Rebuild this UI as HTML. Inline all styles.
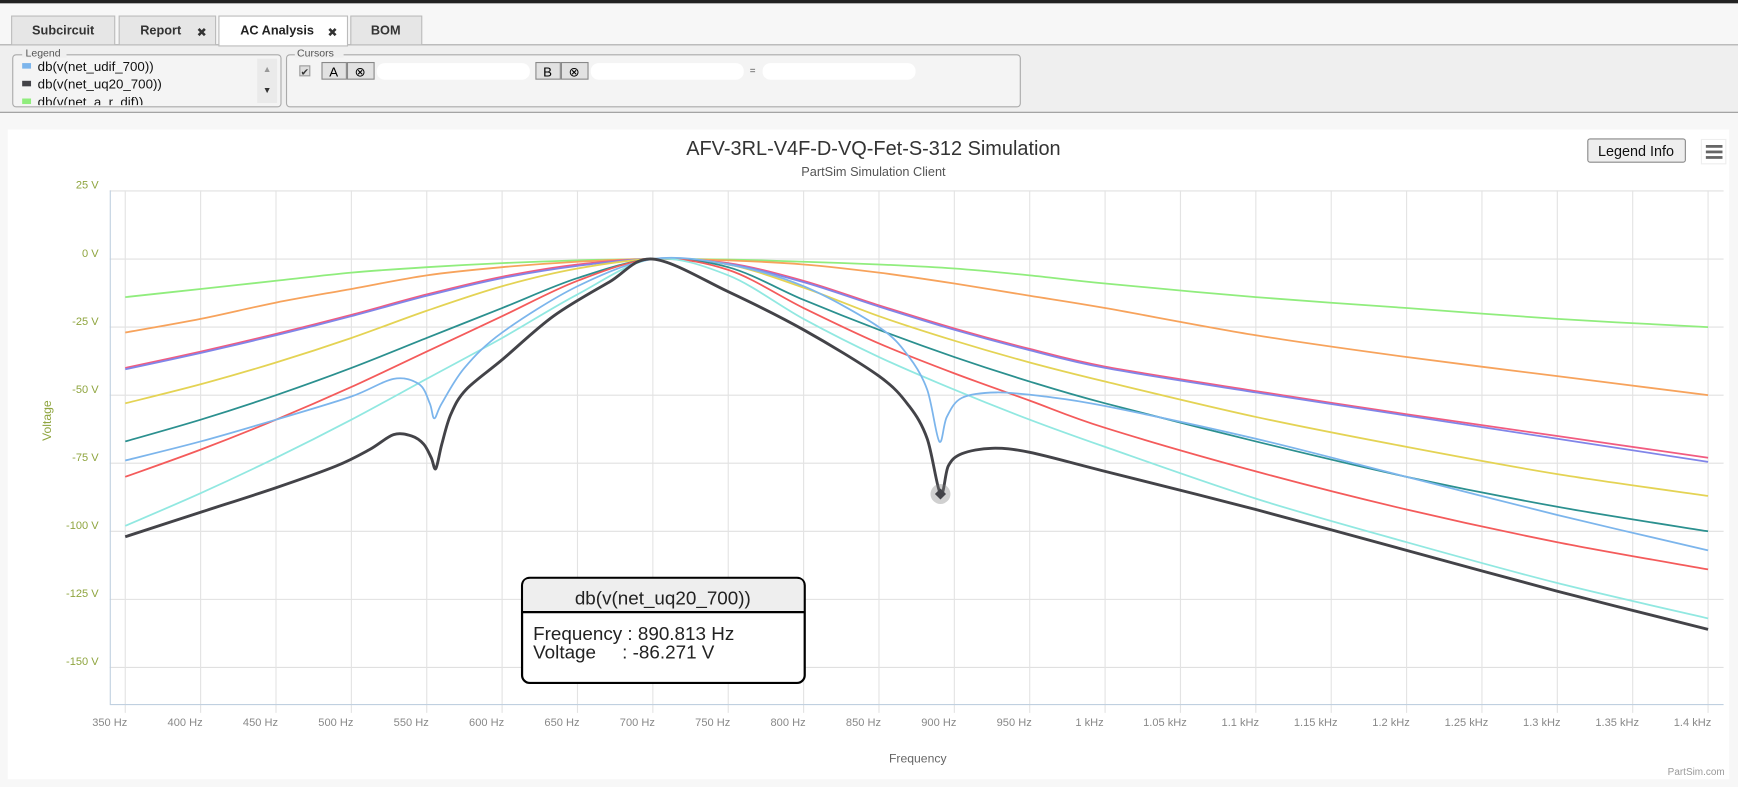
<!DOCTYPE html>
<html><head><meta charset="utf-8"><style>
html,body{margin:0;padding:0;background:#fff;width:1738px;height:787px;overflow:hidden}
svg{display:block;font-family:"Liberation Sans","DejaVu Sans",sans-serif}
</style></head><body>
<svg id="page" width="1738" height="787" viewBox="0 0 1568 711" preserveAspectRatio="none" xmlns="http://www.w3.org/2000/svg">
<rect x="0" y="0" width="1568" height="711" fill="#f7f7f7"/>
<rect x="0" y="0" width="1568" height="3" fill="#222"/>
<g>
 <rect x="0" y="40" width="1568" height="62" fill="#efefef"/>
 <line x1="0" y1="40.5" x2="1568" y2="40.5" stroke="#aaa"/>
 <line x1="0" y1="101.5" x2="1568" y2="101.5" stroke="#999"/>
 <g><rect x="10.5" y="14.5" width="93" height="26" fill="#e6e6e6" stroke="#bbb"/><text x="57" y="31" font-size="11.5" font-weight="bold" text-anchor="middle" fill="#333">Subcircuit</text></g>
 <g><rect x="107.5" y="14.5" width="87" height="26" fill="#e6e6e6" stroke="#bbb"/><text x="145" y="31" font-size="11.5" font-weight="bold" text-anchor="middle" fill="#333">Report</text><text x="182" y="33" font-size="11" font-weight="bold" text-anchor="middle" fill="#333">✖</text></g>
 <g><rect x="197.5" y="14.5" width="116" height="27" fill="#fff" stroke="#bbb"/><text x="250" y="31" font-size="11.5" font-weight="bold" text-anchor="middle" fill="#222">AC Analysis</text><text x="300" y="33" font-size="11" font-weight="bold" text-anchor="middle" fill="#333">✖</text></g>
 <g><rect x="316.5" y="14.5" width="64" height="26" fill="#e6e6e6" stroke="#bbb"/><text x="348" y="31" font-size="11.5" font-weight="bold" text-anchor="middle" fill="#333">BOM</text></g>
 <g>
  <rect x="11.5" y="49.5" width="242" height="47" rx="3" fill="#f4f4f4" stroke="#aaa"/>
  <rect x="20" y="42" width="40" height="10" fill="#efefef"/>
  <text x="23" y="51" font-size="9.5" fill="#555">Legend</text>
  <rect x="20" y="57" width="8" height="5" fill="#7cb5ec"/><text x="34" y="64" font-size="12" fill="#111">db(v(net_udif_700))</text>
  <rect x="20" y="73" width="8" height="5" fill="#434348"/><text x="34" y="80" font-size="12" fill="#111">db(v(net_uq20_700))</text>
  <svg x="14" y="84" width="220" height="11"><rect x="6" y="5" width="8" height="5" fill="#90ed7d"/><text x="20" y="12" font-size="12" fill="#111">db(v(net_a_r_dif))</text></svg>
  <rect x="232" y="53" width="18" height="40" fill="#eaeaea"/>
  <text x="241" y="65" font-size="8" text-anchor="middle" fill="#999">▲</text>
  <text x="241" y="84" font-size="8" text-anchor="middle" fill="#333">▼</text>
 </g>
 <g>
  <rect x="258.5" y="49.5" width="662" height="47" rx="3" fill="#f4f4f4" stroke="#aaa"/>
  <rect x="266" y="42" width="44" height="10" fill="#efefef"/>
  <text x="268" y="51" font-size="9.5" fill="#555">Cursors</text>
  <rect x="270.5" y="59.5" width="9" height="9" fill="#ddd" stroke="#999"/><text x="275" y="68" font-size="9" text-anchor="middle" fill="#333">✔</text>
  <rect x="290.5" y="56.5" width="22" height="15" fill="#e2e2e2" stroke="#888"/><text x="301" y="69" font-size="12" text-anchor="middle">A</text>
  <rect x="313.5" y="56.5" width="24" height="15" fill="#e2e2e2" stroke="#888"/><text x="325" y="69" font-size="12" text-anchor="middle">⊗</text>
  <rect x="340" y="57" width="138" height="15" rx="7" fill="#fff"/>
  <rect x="483.5" y="56.5" width="22" height="15" fill="#e2e2e2" stroke="#888"/><text x="494" y="69" font-size="12" text-anchor="middle">B</text>
  <rect x="506.5" y="56.5" width="24" height="15" fill="#e2e2e2" stroke="#888"/><text x="518" y="69" font-size="12" text-anchor="middle">⊗</text>
  <rect x="533" y="57" width="138" height="15" rx="7" fill="#fff"/>
  <text x="679" y="67" font-size="9" text-anchor="middle" fill="#555">=</text>
  <rect x="688" y="57" width="138" height="15" rx="7" fill="#fff"/>
 </g>
</g>
<rect x="7" y="117" width="1553" height="587" fill="#fff"/>
<text x="788" y="140" font-size="18" text-anchor="middle" fill="#333">AFV-3RL-V4F-D-VQ-Fet-S-312 Simulation</text>
<text x="788" y="159" font-size="11.5" text-anchor="middle" fill="#555">PartSim Simulation Client</text>
<g><rect x="1432.5" y="125.5" width="88" height="21" rx="2" fill="#eee" stroke="#888"/><text x="1476" y="141" font-size="13" text-anchor="middle" fill="#111">Legend Info</text></g>
<g><rect x="1535" y="126" width="22" height="22" fill="#fff" stroke="#eee"/><rect x="1539" y="131" width="15" height="2.5" fill="#666"/><rect x="1539" y="136" width="15" height="2.5" fill="#666"/><rect x="1539" y="141" width="15" height="2.5" fill="#666"/></g>
<g id="grid"></g>
<g id="series"></g>
<g id="axes"></g>
<text transform="translate(46,380) rotate(-90)" font-size="11" text-anchor="middle" fill="#8fa53f">Voltage</text>
<text x="828" y="689" font-size="11" text-anchor="middle" fill="#666">Frequency</text>
<text x="1556" y="700" font-size="9" text-anchor="end" fill="#999">PartSim.com</text>
<g id="marker"></g>
<g>
 <rect x="471" y="522" width="255" height="95" rx="7" fill="#fff" stroke="#000" stroke-width="2"/>
 <path d="M472,553 V529 Q472,523 478,523 H719 Q725,523 725,529 V553 Z" fill="#eee"/>
 <line x1="471" y1="553" x2="726" y2="553" stroke="#000" stroke-width="2"/>
 <text x="598" y="546" font-size="17" text-anchor="middle" fill="#222">db(v(net_uq20_700))</text>
 <text x="481" y="578" font-size="17" fill="#222">Frequency : 890.813 Hz</text>
 <text x="481" y="595" font-size="17" fill="#222" xml:space="preserve">Voltage     : -86.271 V</text>
</g>
</svg>
<script>
const yTicks=[25,0,-25,-50,-75,-100,-125,-150];
const xTicks=[350,400,450,500,550,600,650,700,750,800,850,900,950,1000,1050,1100,1150,1200,1250,1300,1350,1400];
const xTickLabels=["350 Hz","400 Hz","450 Hz","500 Hz","550 Hz","600 Hz","650 Hz","700 Hz","750 Hz","800 Hz","850 Hz","900 Hz","950 Hz","1 kHz","1.05 kHz","1.1 kHz","1.15 kHz","1.2 kHz","1.25 kHz","1.3 kHz","1.35 kHz","1.4 kHz"];
const seriesNames=["net_a_r_dif","orange","pink","purple","yellow","teal","red","cyan","udif","uq20"];
const seriesColors=["#90ed7d","#f7a35c","#f15c80","#8085e9","#e4d354","#2b908f","#f45b5b","#91e8e1","#7cb5ec","#434348"];
const fStd=[350,400,450,500,550,600,650,700,750,800,850,900,950,1000,1100,1200,1300,1400];
const vGreen=[-14,-11,-8,-5,-3,-1.5,-0.5,0,-0.2,-1,-2,-3.5,-6,-9,-14,-18,-22,-25];
const vOrange=[-27,-22,-16,-11,-6,-3,-1,0,-0.5,-2,-5,-9,-13.5,-18,-28,-36,-43,-50];
const vPink=[-40,-34,-27.5,-20.5,-13,-6.5,-2,0,-1.5,-8,-17,-25.5,-33,-39.5,-48.5,-57,-65,-73];
const vPurple=[-40.5,-34.5,-28,-21,-13.5,-7,-2.5,0,-1.8,-8.5,-17.5,-26,-33.5,-40,-49,-57.5,-66,-74.5];
const vYellow=[-53,-46,-38,-29,-19,-10,-3.5,0,-2,-10.5,-21,-30,-38,-45,-58,-69,-79,-87];
const vTeal=[-67,-59,-50,-40,-29,-18,-7,0,-3,-15,-26,-36,-45,-53,-67,-80,-91,-100];
const vRed=[-80,-70,-59,-47,-34,-21,-8,0,-4,-18,-31,-42,-52,-62,-78,-92,-104,-114];
const vCyan=[-98,-86,-73,-59,-44,-29,-13,0,-6,-22,-36,-48,-59,-69,-88,-104,-119,-132];
const fUdif=[350,400,450,500,528,545,552,555,560,575,600,650,700,750,800,850,870,882,890,895,905,928,960,1000,1100,1200,1300,1400];
const vUdif=[-74,-67,-59,-50.5,-44,-46,-53,-58.5,-53,-40,-27,-10,0,-2,-10,-25,-36,-48,-67,-58,-51,-49,-50.5,-54,-66,-80,-94,-107];
const fUq20=[350,400,450,490,512,528,540,548,553,556,560,566,576,600,634,671,700,750,800,850,870,882,890.8,896,905,925,950,1000,1100,1200,1300,1400];
const vUq20=[-102,-93,-84,-76,-70,-64.5,-65,-68,-73,-77,-68,-57,-48,-37,-21,-8.5,0,-12,-26,-43,-54,-66,-86.3,-76,-71.5,-69.5,-71,-78,-92,-107,-122,-136];
const seriesF=[fStd,fStd,fStd,fStd,fStd,fStd,fStd,fStd,fUdif,fUq20];
const seriesV=[vGreen,vOrange,vPink,vPurple,vYellow,vTeal,vRed,vCyan,vUdif,vUq20];
const markerF=890.8, markerV=-86.3;

const NS="http://www.w3.org/2000/svg";
const X0=113,X1=1541,F0=350,F1=1400,Y0=234,DY=61.5/25;
const xs=f=>X0+(f-F0)*(X1-X0)/(F1-F0);
const ys=v=>Y0-v*DY;
function mk(tag,attrs,parent){const e=document.createElementNS(NS,tag);for(const k in attrs)e.setAttribute(k,attrs[k]);parent.appendChild(e);return e;}
const grid=document.getElementById('grid'),axes=document.getElementById('axes'),ser=document.getElementById('series');
yTicks.forEach(v=>{
 const l=mk('line',{x1:99,x2:1555,y1:ys(v),y2:ys(v),stroke:'#e0e0e0','stroke-width':1},grid);
 
 
 const t=mk('text',{x:89,y:ys(v)-2,'font-size':10,'text-anchor':'end',fill:'#8fa53f'},axes);
 t.textContent=v+' V';
 
 
});
xTicks.forEach((f,i)=>{
 const l=mk('line',{x1:xs(f),x2:xs(f),y1:172,y2:644,stroke:'#e3e3e3','stroke-width':1},grid);
 
 
 const t=mk('text',{x:xs(f)-14,y:656,'font-size':10,'text-anchor':'middle',fill:'#888'},axes);
 t.textContent=xTickLabels[i];
 
 
});
const ax=mk('line',{x1:99.5,x2:99.5,y1:172,y2:636,stroke:'#c0d0e0'},axes);


const bx=mk('line',{x1:99,x2:1555,y1:636.5,y2:636.5,stroke:'#c0d0e0'},axes);


function pathFor(F,V){
 const p=F.map((f,i)=>[xs(f),ys(V[i])]);
 let d='M'+p[0][0]+','+p[0][1];
 for(let i=0;i<p.length-1;i++){
  const a=p[Math.max(i-1,0)],b=p[i],c=p[i+1],e=p[Math.min(i+2,p.length-1)];
  const t=0.16;
  d+=` C${b[0]+(c[0]-a[0])*t},${b[1]+(c[1]-a[1])*t} ${c[0]-(e[0]-b[0])*t},${c[1]-(e[1]-b[1])*t} ${c[0]},${c[1]}`;
 }
 return d;
}
seriesV.forEach((V,i)=>{
 const p=mk('path',{d:pathFor(seriesF[i],V),fill:'none',stroke:seriesColors[i],'stroke-width':i==9?2.6:1.6,'stroke-linejoin':'round'},ser);
 
 
});
const mg=document.getElementById('marker');
const c=mk('circle',{cx:xs(markerF),cy:ys(markerV),r:9,fill:'rgba(120,120,120,0.35)'},mg);


const mx=xs(markerF),my=ys(markerV);
const dm=mk('path',{d:`M${mx},${my-5} L${mx+5},${my} L${mx},${my+5} L${mx-5},${my} Z`,fill:'#434348'},mg);


</script>
</body></html>
